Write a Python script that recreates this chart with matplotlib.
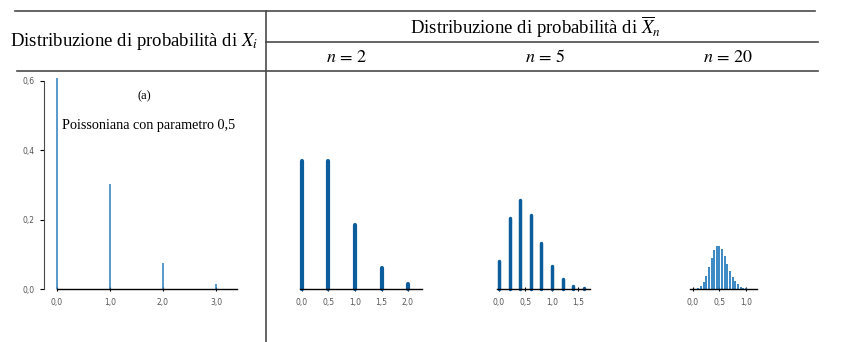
import matplotlib
matplotlib.use("Agg")
import matplotlib.pyplot as plt
from matplotlib.lines import Line2D

W, H = 845, 342
plt.rcParams.update({
    "mathtext.fontset": "stix",
    "font.family": "DejaVu Sans",
})

SERIF = "Liberation Serif"
DARK = "#0b5d9c"
LIGHT = "#2a7fbf"
LINE = "#4a4a4a"

# Poissoniana con parametro 0,5 (X_i)
xi_x = [0, 1, 2, 3]
xi_p = [0.607, 0.303, 0.076, 0.013]

# media campionaria, n = 2
n2_x = [0.0, 0.5, 1.0, 1.5, 2.0]
n2_p = [0.368, 0.368, 0.184, 0.061, 0.015]

# n = 5
n5_x = [0.0, 0.2, 0.4, 0.6, 0.8, 1.0, 1.2, 1.4, 1.6]
n5_p = [0.082, 0.205, 0.257, 0.214, 0.134, 0.067, 0.028, 0.010, 0.003]

# n = 20
n20_x = [0.05, 0.10, 0.15, 0.20, 0.25, 0.30, 0.35, 0.40, 0.45, 0.50,
         0.55, 0.60, 0.65, 0.70, 0.75, 0.80, 0.85, 0.90, 0.95, 1.00, 1.05]
n20_p = [0.0005, 0.0023, 0.0076, 0.019, 0.038, 0.063, 0.090, 0.113, 0.125, 0.125,
         0.114, 0.095, 0.073, 0.052, 0.035, 0.022, 0.013, 0.007, 0.004, 0.002, 0.001]

left_ticks = [0.0, 1.0, 2.0, 3.0]
left_labels = ["0,0", "1,0", "2,0", "3,0"]
y_ticks = [0.0, 0.2, 0.4, 0.6]
y_labels = ["0,0", "0,2", "0,4", "0,6"]
n2_ticks = [0.0, 0.5, 1.0, 1.5, 2.0]
n2_labels = ["0,0", "0,5", "1,0", "1,5", "2,0"]
n5_ticks = [0.0, 0.5, 1.0, 1.5]
n5_labels = ["0,0", "0,5", "1,0", "1,5"]
n20_ticks = [0.0, 0.5, 1.0]
n20_labels = ["0,0", "0,5", "1,0"]

PX_X = 53.0    # pixel per unita' (asse x)
PX_Y = 347.0   # pixel per unita' (asse y)
Y0 = 289       # pixel della linea di base
YTOP = 0.62

fig = plt.figure(figsize=(W / 100, H / 100), dpi=100)


def make_axes(x0_px, xmin, xmax):
    """assi con scala comune, origine dei dati in x0_px"""
    left = x0_px + xmin * PX_X
    width = (xmax - xmin) * PX_X
    height = YTOP * PX_Y
    ax = fig.add_axes([left / W, (H - Y0) / H, width / W, height / H])
    ax.set_xlim(xmin, xmax)
    ax.set_ylim(0, YTOP)
    ax.patch.set_alpha(0)
    for s in ["top", "right", "left"]:
        ax.spines[s].set_visible(False)
    ax.spines["bottom"].set_linewidth(1.0)
    ax.spines["bottom"].set_color("black")
    ax.tick_params(axis="x", direction="inout", length=3, width=0.8,
                   labelsize=5.5, labelcolor="#555555", pad=5)
    ax.set_yticks([])
    return ax


def stems(ax, xs, ps, color, lw, round_cap):
    lc = ax.vlines(xs, 0, ps, colors=color, linewidth=lw, clip_on=False)
    if round_cap:
        lc.set_capstyle("round")
    return lc


# pannello (a)
ax0 = make_axes(57, -0.245, 3.4)
ax0.spines["left"].set_visible(True)
ax0.spines["left"].set_bounds(0, 0.6)
ax0.spines["left"].set_color(LINE)
ax0.spines["bottom"].set_bounds(0, 3.4)
ax0.set_yticks(y_ticks, y_labels)
ax0.tick_params(axis="y", direction="out", length=3, width=0.8,
                labelsize=5.5, labelcolor="#555555", pad=4)
ax0.set_xticks(left_ticks, left_labels)
stems(ax0, xi_x, xi_p, LIGHT, 1.1, False)
ax0.text(1.65, 0.555, "(a)", family=SERIF, fontsize=9, ha="center", va="center")
ax0.text(1.72, 0.47, "Poissoniana con parametro 0,5", family=SERIF, fontsize=10.2,
         ha="center", va="center")

# n = 2
ax1 = make_axes(302, -0.04, 2.27)
ax1.set_xticks(n2_ticks, n2_labels)
stems(ax1, n2_x, n2_p, DARK, 3.0, True)

# n = 5
ax2 = make_axes(499, -0.04, 1.72)
ax2.set_xticks(n5_ticks, n5_labels)
stems(ax2, n5_x, n5_p, DARK, 2.5, True)

# n = 20
ax3 = make_axes(693, -0.06, 1.2)
ax3.set_xticks(n20_ticks, n20_labels)
stems(ax3, n20_x, n20_p, LIGHT, 1.3, False)


# intestazione a tabella
def hline(y, x0, x1):
    fig.add_artist(Line2D([x0 / W, x1 / W], [1 - y / H, 1 - y / H],
                          color=LINE, linewidth=1.2))


hline(11, 15, 815)
hline(42, 266, 818)
hline(71, 17, 818)
fig.add_artist(Line2D([266 / W, 266 / W], [1 - 11 / H, 0], color=LINE, linewidth=1.2))

fig.text(134 / W, 1 - 42 / H, r"Distribuzione di probabilità di $X_i$", family=SERIF,
         fontsize=13.5, ha="center", va="center")
fig.text(536 / W, 1 - 27 / H, r"Distribuzione di probabilità di $\overline{X}_n$",
         family=SERIF, fontsize=13.5, ha="center", va="center")
for xp, lab in [(347, r"$n\,=\,2$"), (545, r"$n\,=\,5$"), (728, r"$n\,=\,20$")]:
    fig.text(xp / W, 1 - 57 / H, lab, fontsize=13, ha="center", va="center")

fig.savefig("out.png", dpi=100)
